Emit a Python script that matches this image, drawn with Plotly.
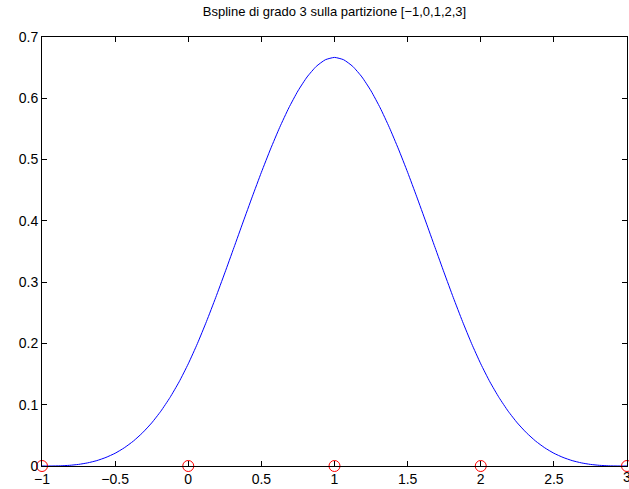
import plotly.graph_objects as go

# Knots of the partition
knots_x = [-1, 0, 1, 2, 3]
knots_y = [0, 0, 0, 0, 0]

# B-spline curve values (x step 0.0625)
curve_x = [-1.0, -0.9375, -0.875, -0.8125, -0.75, -0.6875, -0.625, -0.5625,
           -0.5, -0.4375, -0.375, -0.3125, -0.25, -0.1875, -0.125, -0.0625,
           0.0, 0.0625, 0.125, 0.1875, 0.25, 0.3125, 0.375, 0.4375,
           0.5, 0.5625, 0.625, 0.6875, 0.75, 0.8125, 0.875, 0.9375,
           1.0, 1.0625, 1.125, 1.1875, 1.25, 1.3125, 1.375, 1.4375,
           1.5, 1.5625, 1.625, 1.6875, 1.75, 1.8125, 1.875, 1.9375,
           2.0, 2.0625, 2.125, 2.1875, 2.25, 2.3125, 2.375, 2.4375,
           2.5, 2.5625, 2.625, 2.6875, 2.75, 2.8125, 2.875, 2.9375, 3.0]
curve_y = [0.0, 0.00004, 0.0003, 0.0011, 0.0026, 0.0051, 0.0088, 0.0140,
           0.0208, 0.0297, 0.0407, 0.0542, 0.0703, 0.0894, 0.1117, 0.1373,
           0.1667, 0.1997, 0.2360, 0.2747, 0.3151, 0.3565, 0.3981, 0.4392,
           0.4792, 0.5171, 0.5524, 0.5843, 0.6120, 0.6348, 0.6520, 0.6629,
           0.6667, 0.6629, 0.6520, 0.6348, 0.6120, 0.5843, 0.5524, 0.5171,
           0.4792, 0.4392, 0.3981, 0.3565, 0.3151, 0.2747, 0.2360, 0.1997,
           0.1667, 0.1373, 0.1117, 0.0894, 0.0703, 0.0542, 0.0407, 0.0297,
           0.0208, 0.0140, 0.0088, 0.0051, 0.0026, 0.0011, 0.0003, 0.00004, 0.0]

x_ticks = [-1, -0.5, 0, 0.5, 1, 1.5, 2, 2.5]
x_labels = ["\u22121", "\u22120.5", "0", "0.5", "1", "1.5", "2", "2.5"]
last_x_tick = 3
last_x_label = "3"
y_ticks = [0, 0.1, 0.2, 0.3, 0.4, 0.5, 0.6, 0.7]
y_labels = ["0", "0.1", "0.2", "0.3", "0.4", "0.5", "0.6", "0.7"]

font_family = "Liberation Sans, Arial"

fig = go.Figure()
fig.add_trace(go.Scatter(x=curve_x, y=curve_y, mode="lines",
                         line=dict(color="#0000ff", width=1, shape="spline", smoothing=0.5),
                         showlegend=False))
fig.add_trace(go.Scatter(x=knots_x, y=knots_y, mode="markers",
                         marker=dict(symbol="circle-open", size=11, color="#ff0000",
                                     line=dict(width=1, color="#ff0000")),
                         cliponaxis=False, showlegend=False))

axis_common = dict(showgrid=False, zeroline=False, showline=True, linecolor="black",
                   linewidth=1, mirror="ticks", ticks="inside", ticklen=5,
                   tickcolor="black", tickfont=dict(family=font_family, size=14, color="black"))

fig.update_layout(
    width=629, height=489,
    margin=dict(l=42, r=2, t=37, b=23),
    paper_bgcolor="white", plot_bgcolor="white",
    title=dict(text="Bspline di grado 3 sulla partizione [\u22121,0,1,2,3]",
               x=(42 + 627) / 2 / 629, xanchor="center", y=0.985, yanchor="top",
               font=dict(family=font_family, size=13, color="black")),
    xaxis=dict(range=[-1, 3], tickvals=x_ticks + [last_x_tick],
               ticktext=x_labels + [""], **axis_common),
    yaxis=dict(range=[0, 0.7], tickvals=y_ticks, ticktext=y_labels, **axis_common),
)
# the last tick label, partly cut at the page edge as in the reference
fig.add_annotation(x=last_x_tick, y=0, xref="x", yref="y", text=last_x_label,
                   showarrow=False, xanchor="center", yanchor="top", yshift=-1,
                   font=dict(family=font_family, size=14, color="black"))
fig.write_html("out.html", config={"displayModeBar": False},
               post_script="document.body.style.margin='0';document.body.style.overflow='hidden';")
